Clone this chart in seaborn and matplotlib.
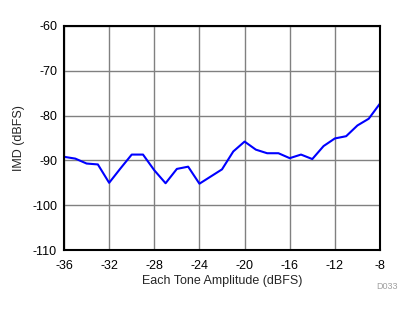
import matplotlib
matplotlib.use("Agg")
import matplotlib.pyplot as plt
import seaborn as sns
import pandas as pd

amplitude = [-36, -35, -34, -33, -32, -31, -30, -29, -28, -27, -26, -25, -24, -23, -22,
             -21, -20, -19, -18, -17, -16, -15, -14, -13, -12, -11, -10, -9, -8]
imd = [-89.2, -89.6, -90.7, -90.9, -95.0, -91.8, -88.7, -88.7, -92.2, -95.1, -91.9, -91.4,
       -95.2, -93.6, -92.0, -88.0, -85.8, -87.6, -88.4, -88.4, -89.5, -88.7, -89.7, -86.8,
       -85.1, -84.6, -82.2, -80.7, -77.3]
xticks = [-36, -32, -28, -24, -20, -16, -12, -8]
yticks = [-60, -70, -80, -90, -100, -110]

df = pd.DataFrame({"amp": amplitude, "imd": imd})

sns.set_style("white")
plt.rcParams["font.family"] = ["Liberation Sans", "DejaVu Sans"]
plt.rcParams["axes.unicode_minus"] = False

fig = plt.figure(figsize=(4.14, 3.12), dpi=100)
ax = fig.add_axes([0.1546, 0.1987, 0.7633, 0.7180])
sns.lineplot(data=df, x="amp", y="imd", ax=ax, color="#0000ff", linewidth=1.5)
ax.set_xlim(-36, -8)
ax.set_ylim(-110, -60)
ax.set_xticks(xticks)
ax.set_yticks(yticks)
ax.grid(True, color="#808080", linewidth=1.0)
ax.set_axisbelow(True)
for s in ax.spines.values():
    s.set_color("black")
    s.set_linewidth(1.5)
    s.set_visible(True)
ax.tick_params(length=0, labelsize=9, colors="black")
ax.tick_params(axis="x", pad=7.5)
ax.tick_params(axis="y", pad=5)
ax.set_xlabel("Each Tone Amplitude (dBFS)", fontsize=9, labelpad=2)
ax.set_ylabel("IMD (dBFS)", fontsize=9, labelpad=5)
fig.text(0.961, 0.083, "D033", fontsize=6.5, color="#a0a0a0", ha="right", va="center")
fig.savefig("out.png", dpi=100)
